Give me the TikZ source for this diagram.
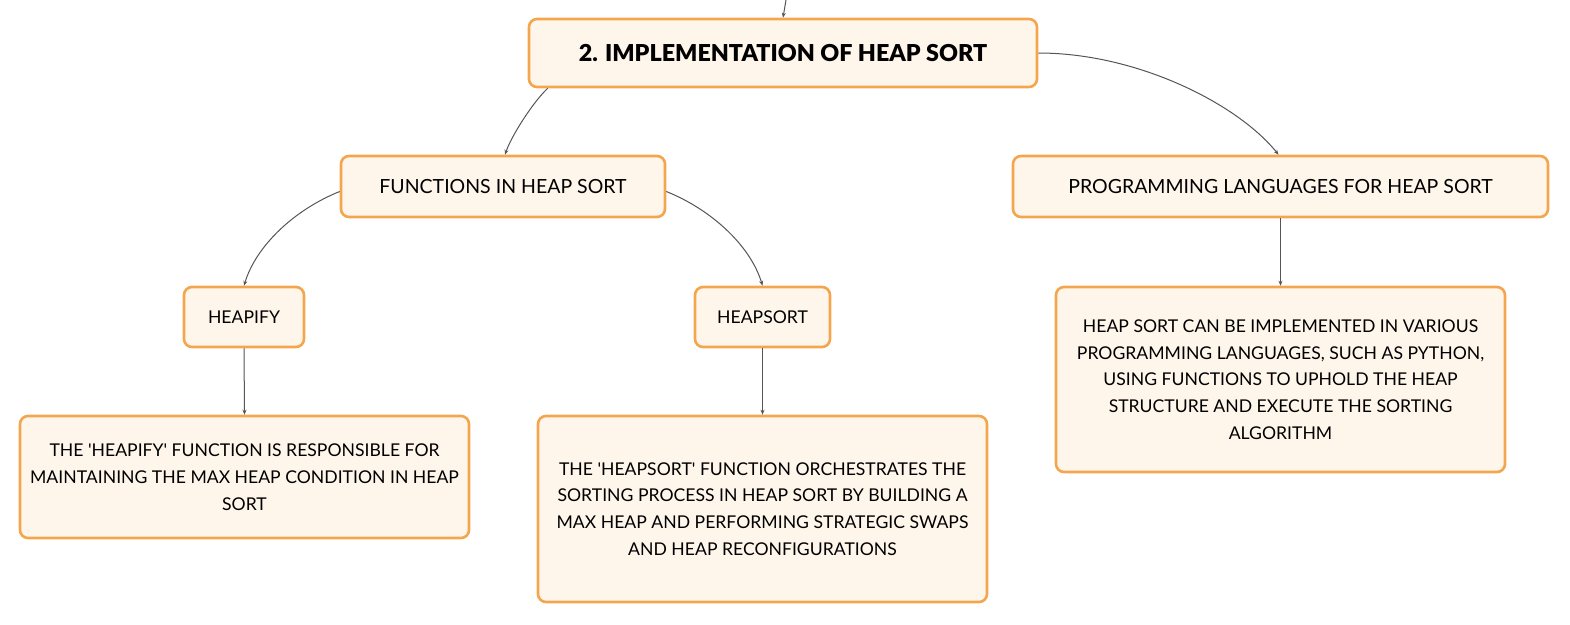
\documentclass[tikz,border=0pt]{standalone}
\usepackage{fontspec}
\setmainfont{Lato}
\newfontfamily\titlefont{Lato Black}
\usetikzlibrary{arrows.meta}
\definecolor{boxfill}{RGB}{254,245,235}
\definecolor{boxline}{RGB}{244,166,78}
\definecolor{conn}{RGB}{85,85,85}
\tikzset{
  card/.style={draw=boxline, line width=2.6pt, fill=boxfill, rounded corners=8pt,
    inner sep=0pt, align=center, font=\fontsize{17.6}{26.7}\selectfont},
  bigcard/.style={card, font=\fontsize{19.5}{24}\selectfont},
  titlecard/.style={card, font=\fontsize{23.3}{27}\selectfont\titlefont},
  link/.style={draw=conn, line width=1pt, -{Stealth[length=5pt,width=4pt]}},
}
\begin{document}
\begin{tikzpicture}[x=1pt,y=-1pt]
\useasboundingbox (0,0) rectangle (1570,624);
\node[titlecard, minimum width=508pt, minimum height=68pt] (title) at (783,53) {2. IMPLEMENTATION OF HEAP SORT};
\node[bigcard, minimum width=324pt, minimum height=61pt] (fun) at (503,186.5) {FUNCTIONS IN HEAP SORT};
\node[bigcard, minimum width=535pt, minimum height=61pt] (prog) at (1280.5,186.5) {PROGRAMMING LANGUAGES FOR HEAP SORT};
\node[card, minimum width=120pt, minimum height=60pt] (hfy) at (244,317) {HEAPIFY};
\node[card, minimum width=135pt, minimum height=60pt] (hst) at (762.5,317) {HEAPSORT};
\node[card, minimum width=449pt, minimum height=122pt] (hfyd) at (244.5,477) {THE \textquotesingle HEAPIFY\textquotesingle{} FUNCTION IS RESPONSIBLE FOR\\MAINTAINING THE MAX HEAP CONDITION IN HEAP\\SORT};
\node[card, minimum width=449pt, minimum height=186pt] (hstd) at (762.5,509) {THE \textquotesingle HEAPSORT\textquotesingle{} FUNCTION ORCHESTRATES THE\\SORTING PROCESS IN HEAP SORT BY BUILDING A\\MAX HEAP AND PERFORMING STRATEGIC SWAPS\\AND HEAP RECONFIGURATIONS};
\node[card, minimum width=449pt, minimum height=185pt] (progd) at (1280.5,379.5) {HEAP SORT CAN BE IMPLEMENTED IN VARIOUS\\PROGRAMMING LANGUAGES, SUCH AS PYTHON,\\USING FUNCTIONS TO UPHOLD THE HEAP\\STRUCTURE AND EXECUTE THE SORTING\\ALGORITHM};
\coordinate (in) at (786,0);
\draw[link] (in) -- (title.north);
\draw[link] ([xshift=20pt]title.south west) .. controls +(-15,14) and +(6,-18) .. ([xshift=2pt]fun.north);
\draw[link] (title.east) .. controls +(100,0) and +(-40,-50) .. ([xshift=-2pt]prog.north);
\draw[link] ([yshift=-5pt]fun.west) .. controls +(-45,18) and +(12,-40) .. (hfy.north);
\draw[link] ([yshift=-5pt]fun.east) .. controls +(45,18) and +(-12,-40) .. (hst.north);
\draw[link] (hfy.south) -- (hfyd.north);
\draw[link] (hst.south) -- (hstd.north);
\draw[link] (prog.south) -- (progd.north);
\end{tikzpicture}
\end{document}
